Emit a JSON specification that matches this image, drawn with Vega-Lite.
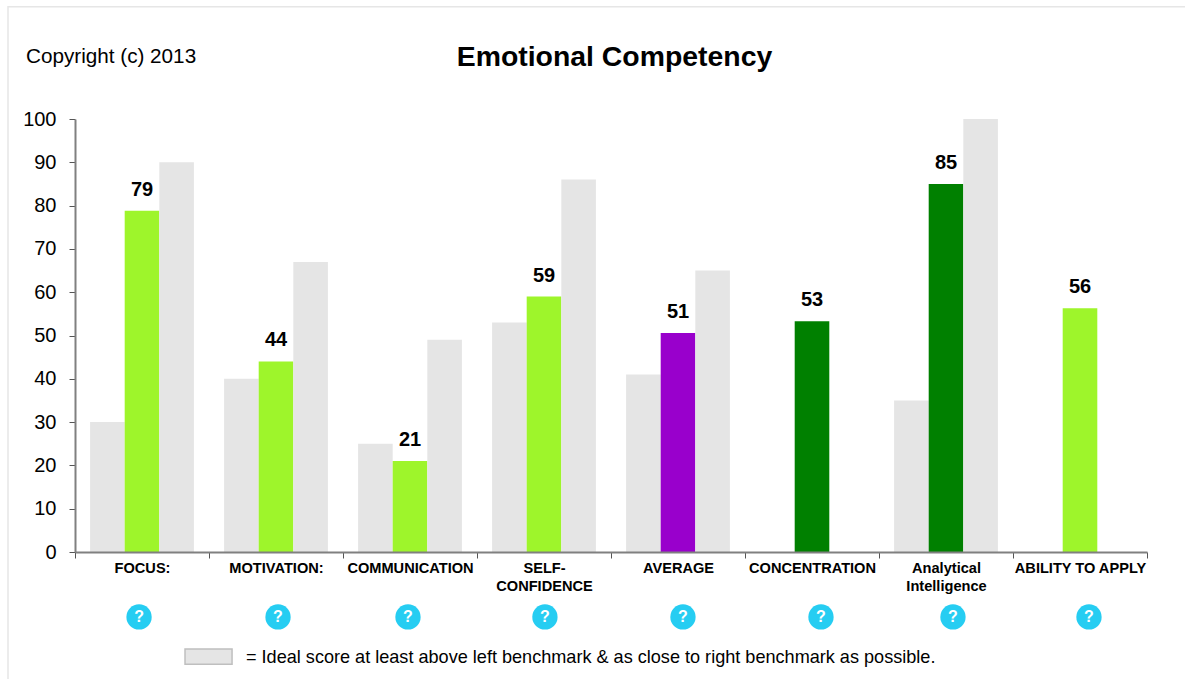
{
"$schema":"https://vega.github.io/schema/vega-lite/v6.json",
"width":1072,"height":433,
"autosize":{"type":"none"},
"padding":{"left":75,"top":119,"right":38,"bottom":127},
"background":"white",
"config":{"view":{"stroke":null},"font":"Liberation Sans"},
"datasets":{
"bars":[
{"cat":"FOCUS:","series":"left","tier":"benchmark","value":30},
{"cat":"FOCUS:","series":"score","tier":"good","value":78.8},
{"cat":"FOCUS:","series":"right","tier":"benchmark","value":90},
{"cat":"MOTIVATION:","series":"left","tier":"benchmark","value":40},
{"cat":"MOTIVATION:","series":"score","tier":"good","value":44},
{"cat":"MOTIVATION:","series":"right","tier":"benchmark","value":67},
{"cat":"COMMUNICATION","series":"left","tier":"benchmark","value":25},
{"cat":"COMMUNICATION","series":"score","tier":"good","value":21},
{"cat":"COMMUNICATION","series":"right","tier":"benchmark","value":49},
{"cat":"SELF-\nCONFIDENCE","series":"left","tier":"benchmark","value":53},
{"cat":"SELF-\nCONFIDENCE","series":"score","tier":"good","value":59},
{"cat":"SELF-\nCONFIDENCE","series":"right","tier":"benchmark","value":86},
{"cat":"AVERAGE","series":"left","tier":"benchmark","value":41},
{"cat":"AVERAGE","series":"score","tier":"average","value":50.6},
{"cat":"AVERAGE","series":"right","tier":"benchmark","value":65},
{"cat":"CONCENTRATION","series":"score","tier":"strong","value":53.3},
{"cat":"Analytical\nIntelligence","series":"left","tier":"benchmark","value":35},
{"cat":"Analytical\nIntelligence","series":"score","tier":"strong","value":85},
{"cat":"Analytical\nIntelligence","series":"right","tier":"benchmark","value":100},
{"cat":"ABILITY TO APPLY","series":"score","tier":"good","value":56.3}
],
"icons":[{"pos":0.478,"y":-15,"mark":"?"},{"pos":1.515,"y":-15,"mark":"?"},{"pos":2.485,"y":-15,"mark":"?"},{"pos":3.507,"y":-15,"mark":"?"},{"pos":4.537,"y":-15,"mark":"?"},{"pos":5.567,"y":-15,"mark":"?"},{"pos":6.552,"y":-15,"mark":"?"},{"pos":7.567,"y":-15,"mark":"?"}]
},
"resolve":{"scale":{"x":"independent"},"axis":{"x":"independent"}},
"layer":[
{"data":{"name":"bars"},
 "mark":{"type":"bar"},
  "encoding":{
   "x":{"field":"cat","type":"nominal","sort":null,"scale":{"paddingInner":0,"paddingOuter":0},
     "axis":{"title":null,"orient":"bottom","zindex":1,"tickBand":"extent","labelAngle":0,"labelFont":"Liberation Sans","labelFontSize":14.6,"labelFontWeight":"bold","labelColor":"#000000","labelLimit":0,"labelLineHeight":18,"labelPadding":2.5,"labelAlign":"center","labelBaseline":"top","labelExpr":"split(datum.label,'\\n')","domainColor":"#808080","domainWidth":2,"tickColor":"#555555","tickSize":6,"tickWidth":1,"grid":false}},
   "xOffset":{"field":"series","type":"nominal","sort":["left","score","right"],"scale":{"domain":["left","score","right"],"paddingInner":0,"paddingOuter":0.436}},
   "y":{"field":"value","type":"quantitative","scale":{"domain":[0,100],"nice":false},
     "axis":{"title":null,"zindex":1,"values":[0,10,20,30,40,50,60,70,80,90,100],"labelFont":"Liberation Sans","labelFontSize":20,"labelColor":"#000000","labelPadding":13,"domainColor":"#808080","domainWidth":2,"tickColor":"#555555","tickSize":6,"tickWidth":1,"grid":false}},
   "color":{"field":"tier","type":"nominal","legend":null,"scale":{"domain":["benchmark","good","strong","average"],"range":["#E5E5E5","#9EF52B","#008000","#9900CC"]}}}},
{"data":{"name":"bars"},
  "transform":[{"filter":"datum.series==='score'"}],
  "mark":{"type":"text","font":"Liberation Sans","fontSize":20,"fontWeight":"bold","color":"#000000","baseline":"bottom","dy":-11},
  "encoding":{
   "x":{"field":"cat","type":"nominal","sort":null,"scale":{"paddingInner":0,"paddingOuter":0},"axis":null},
   "xOffset":{"field":"series","type":"nominal","scale":{"domain":["left","score","right"],"paddingInner":0,"paddingOuter":0.436}},
   "y":{"field":"value","type":"quantitative"},
   "text":{"field":"value","type":"quantitative","format":".0f"}}},
{"data":{"values":[{"x":-0.5,"x2":9,"y":125.9,"y2":-40}]},
 "mark":{"type":"rect","fill":null,"stroke":"#e6e6e6","strokeWidth":1.5},
 "encoding":{
  "x":{"field":"x","type":"quantitative","scale":{"domain":[0,8]},"axis":null},
  "x2":{"field":"x2"},
  "y":{"field":"y","type":"quantitative"},
  "y2":{"field":"y2"}}},
{"data":{"name":"icons"},
 "mark":{"type":"point","shape":"circle","filled":true,"size":640,"color":"#26CDF2","opacity":1},
 "encoding":{
  "x":{"field":"pos","type":"quantitative","scale":{"domain":[0,8]},"axis":null},
  "y":{"field":"y","type":"quantitative"}}},
{"data":{"name":"icons"},
 "mark":{"type":"text","font":"Liberation Sans","fontSize":16,"fontWeight":"bold","color":"#ffffff","baseline":"middle","align":"center"},
 "encoding":{
  "x":{"field":"pos","type":"quantitative","scale":{"domain":[0,8]},"axis":null},
  "y":{"field":"y","type":"quantitative"},
  "text":{"field":"mark"}}},
{"data":{"values":[{"x":0.821,"x2":1.172,"y":-22.4,"y2":-25.9}]},
 "mark":{"type":"rect","fill":"#E5E5E5","stroke":"#BFBFBF","strokeWidth":1.5},
 "encoding":{
  "x":{"field":"x","type":"quantitative","scale":{"domain":[0,8]},"axis":null},
  "x2":{"field":"x2"},
  "y":{"field":"y","type":"quantitative"},
  "y2":{"field":"y2"}}},
{"data":{"values":[
 {"pos":-0.366,"y":114.4,"note":"Copyright (c) 2013","fs":"a"},
 {"pos":1.276,"y":-24.4,"note":"= Ideal score at least above left benchmark & as close to right benchmark as possible.","fs":"b"}]},
 "mark":{"type":"text","font":"Liberation Sans","align":"left","baseline":"middle","color":"#000000"},
 "encoding":{
  "x":{"field":"pos","type":"quantitative","scale":{"domain":[0,8]},"axis":null},
  "y":{"field":"y","type":"quantitative"},
  "size":{"field":"fs","type":"nominal","legend":null,"scale":{"domain":["a","b"],"range":[20.7,18.1]}},
  "text":{"field":"note"}}},
{"data":{"values":[{"pos":4.026,"y":114.3,"note":"Emotional Competency"}]},
 "mark":{"type":"text","font":"Liberation Sans","fontSize":28.4,"fontWeight":"bold","align":"center","baseline":"middle","color":"#000000"},
 "encoding":{
  "x":{"field":"pos","type":"quantitative","scale":{"domain":[0,8]},"axis":null},
  "y":{"field":"y","type":"quantitative"},
  "text":{"field":"note"}}}
]
}
